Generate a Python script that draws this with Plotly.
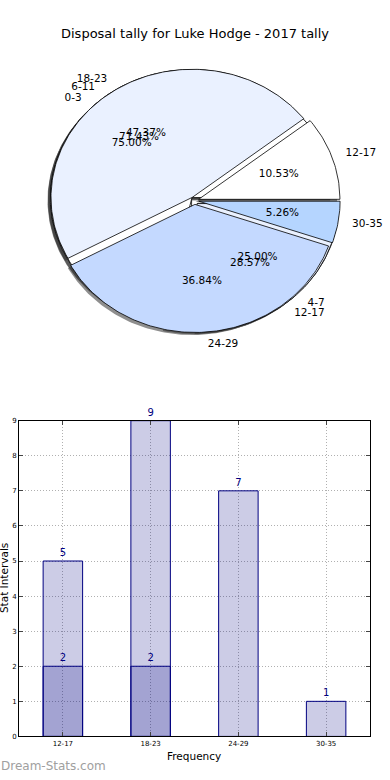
import numpy as np
import plotly.graph_objects as go

# ---------------- data ----------------
TITLE = "Disposal tally for Luke Hodge - 2017 tally"

pie_a_labels = ["0-3", "4-7"]
pie_a_values = [3, 1]
pie_b_labels = ["6-11", "12-17"]
pie_b_values = [5, 2]
pie_c_labels = ["12-17", "18-23", "24-29", "30-35"]
pie_c_values = [2, 9, 7, 1]

bar_categories = ["12-17", "18-23", "24-29", "30-35"]
bar_total = [5, 9, 7, 1]
bar_sub = [2, 2, None, None]
y_ticks = list(range(10))

X_TITLE = "Frequency"
Y_TITLE = "Stat Intervals"
WATERMARK = "Dream-Stats.com"

# ---------------- styles ----------------
W, H = 390, 780
FONT = "DejaVu Sans"
pie_colors = ["#ffffff", "#eaf1ff", "#c4d9ff", "#b5d5ff"]
EXPLODE = 0.03
cx, cy, rx, ry = 194.6, 198.6, 141.3, 129.4
top_px, bot_px = 40, 420
xr = [-cx / rx, (W - cx) / rx]
yr = [-(bot_px - cy) / ry, (cy - top_px) / ry]


def wedges(values):
    total = float(sum(values))
    theta = 0.0
    out = []
    for v in values:
        t1 = theta
        t2 = theta + 360.0 * v / total
        mid = np.radians((t1 + t2) / 2)
        dx, dy = EXPLODE * np.cos(mid), EXPLODE * np.sin(mid)
        ang = np.radians(np.linspace(t1, t2, max(int(t2 - t1), 2) + 1))
        xs = np.concatenate([[dx], dx + np.cos(ang), [dx]])
        ys = np.concatenate([[dy], dy + np.sin(ang), [dy]])
        out.append(dict(xs=xs, ys=ys, mid=mid, dx=dx, dy=dy, frac=v / total))
        theta = t2
    return out


pies = [(pie_a_labels, pie_a_values), (pie_b_labels, pie_b_values),
        (pie_c_labels, pie_c_values)]
geo = [wedges(v) for _, v in pies]

fig = go.Figure()

# shadows
for g in geo:
    for i, w in enumerate(g):
        fig.add_trace(go.Scatter(
            x=w["xs"] - 0.02, y=w["ys"] - 0.02, mode="lines", fill="toself",
            fillcolor="rgba(50,50,50,0.55)", line=dict(width=0),
            hoverinfo="skip", xaxis="x", yaxis="y"))

# wedges
for g in geo:
    for i, w in enumerate(g):
        fig.add_trace(go.Scatter(
            x=w["xs"], y=w["ys"], mode="lines", fill="toself",
            fillcolor=pie_colors[i % len(pie_colors)],
            line=dict(color="black", width=0.8),
            hoverinfo="skip", xaxis="x", yaxis="y"))

# texts
for (labels, values), g in zip(pies, geo):
    lx, ly, lpos, px, py, pt = [], [], [], [], [], []
    for lab, w in zip(labels, g):
        x = w["dx"] + 1.1 * np.cos(w["mid"])
        y = w["dy"] + 1.1 * np.sin(w["mid"])
        lx.append(x)
        ly.append(y)
        lpos.append("middle right" if x > 0 else "middle left")
        px.append(w["dx"] + 0.6 * np.cos(w["mid"]))
        py.append(w["dy"] + 0.6 * np.sin(w["mid"]))
        pt.append(f"{w['frac'] * 100:.2f}%")
    fig.add_trace(go.Scatter(
        x=lx, y=ly, mode="text", text=labels, textposition=lpos,
        textfont=dict(family=FONT, size=10.5, color="black"),
        marker=dict(size=0), hoverinfo="skip", xaxis="x", yaxis="y"))
    fig.add_trace(go.Scatter(
        x=px, y=py, mode="text", text=pt, textposition="middle center",
        textfont=dict(family=FONT, size=10.5, color="black"),
        hoverinfo="skip", xaxis="x", yaxis="y"))

# bars
BAR_FILL = "rgba(0,0,128,0.2)"
NAVY = "#000080"
fig.add_trace(go.Bar(
    x=bar_categories, y=bar_total, width=0.45, xaxis="x2", yaxis="y2",
    marker=dict(color=BAR_FILL, line=dict(color=NAVY, width=1)),
    text=[str(v) for v in bar_total], textposition="outside",
    textfont=dict(family=FONT, size=10, color=NAVY), cliponaxis=False))
fig.add_trace(go.Bar(
    x=bar_categories, y=bar_sub, width=0.45, xaxis="x2", yaxis="y2",
    marker=dict(color=BAR_FILL, line=dict(color=NAVY, width=1)),
    text=["" if v is None else str(v) for v in bar_sub], textposition="outside",
    textfont=dict(family=FONT, size=10, color=NAVY), cliponaxis=False))

axis_common = dict(showline=True, linecolor="black", linewidth=1, mirror="ticks",
                   ticks="inside", ticklen=4, tickcolor="#444",
                   tickfont=dict(family=FONT, size=7, color="black"),
                   showgrid=True, gridcolor="#b0b0b0", griddash="1px,2px", gridwidth=1,
                   zeroline=False, fixedrange=True)

fig.update_layout(
    width=W, height=H, margin=dict(l=0, r=0, t=0, b=0),
    paper_bgcolor="white", plot_bgcolor="white", showlegend=False,
    barmode="overlay",
    xaxis=dict(domain=[0, 1], range=xr, visible=False, fixedrange=True),
    yaxis=dict(domain=[1 - bot_px / H, 1 - top_px / H], range=yr, visible=False,
               fixedrange=True),
    xaxis2=dict(domain=[19 / W, 370 / W], range=[-0.5, 3.5], anchor="y2",
                type="category", **axis_common),
    yaxis2=dict(domain=[1 - 740 / H, 1 - 421 / H], range=[0, 9], anchor="x2",
                tickvals=y_ticks, **axis_common),
    annotations=[
        dict(text=TITLE, x=195 / W, y=1 - 30 / H, xref="paper", yref="paper",
             showarrow=False, font=dict(family=FONT, size=13, color="black"),
             xanchor="center", yanchor="middle"),
        dict(text=X_TITLE, x=194 / W, y=1 - 760 / H, xref="paper", yref="paper",
             showarrow=False, font=dict(family=FONT, size=10.5, color="black"),
             xanchor="center", yanchor="middle"),
        dict(text=Y_TITLE, x=4 / W, y=1 - 580 / H, xref="paper", yref="paper",
             showarrow=False, textangle=-90,
             font=dict(family=FONT, size=10.5, color="black"),
             xanchor="center", yanchor="middle"),
        dict(text=WATERMARK, x=-1 / W, y=1 - 770 / H, xref="paper", yref="paper",
             showarrow=False, font=dict(family=FONT, size=12, color="#a0a0a0"),
             xanchor="left", yanchor="middle"),
    ],
)

fig.write_html(
    "out.html",
    config={"displayModeBar": False},
    post_script="document.body.style.margin='0';document.body.style.overflow='hidden';",
)
